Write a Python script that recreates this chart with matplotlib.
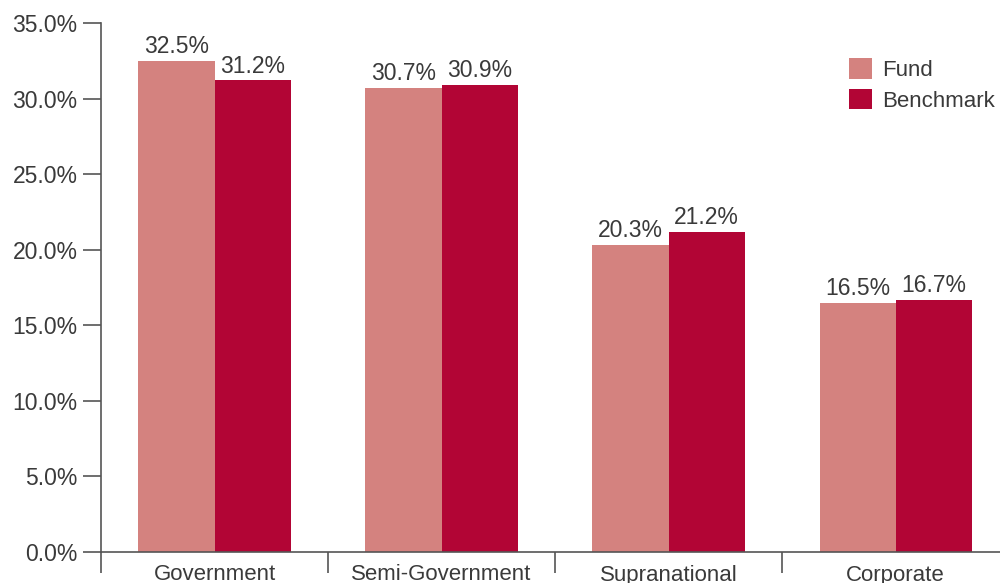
import numpy as np
import matplotlib
matplotlib.use('Agg')
import matplotlib.pyplot as plt
from matplotlib.ticker import FixedLocator, PercentFormatter

plt.rcParams['font.family'] = ['Liberation Sans', 'DejaVu Sans']

# --------- data
categories = ['Government', 'Semi-Government', 'Supranational', 'Corporate']
fund = [32.5, 30.7, 20.3, 16.5]
benchmark = [31.2, 30.9, 21.2, 16.7]
series_names = ['Fund', 'Benchmark']

fund_color = '#D4827F'
bench_color = '#B20535'
text_color = '#3a3a3a'
axis_color = '#555555'

fig = plt.figure(figsize=(10, 5.83), dpi=100)
ax = fig.add_axes([0.101, 31 / 583, 1.0 - 0.101, 529 / 583])

x = np.arange(len(categories))
w = 0.335
b1 = ax.bar(x - w / 2, fund, width=w, color=fund_color, label=series_names[0])
b2 = ax.bar(x + w / 2, benchmark, width=w, color=bench_color, label=series_names[1])

for bars, vals in [(b1, fund), (b2, benchmark)]:
    for rect, v in zip(bars, vals):
        ax.annotate(f'{v:.1f}%', (rect.get_x() + rect.get_width() / 2, v),
                    xytext=(0, 2), textcoords='offset points',
                    ha='center', va='bottom', fontsize=16.5, color=text_color)

ax.set_ylim(0, 35)
ax.set_xlim(-0.5, 3.46)
ax.yaxis.set_major_locator(FixedLocator(np.arange(0, 36, 5)))
ax.yaxis.set_major_formatter(PercentFormatter(decimals=1))

ax.set_xticks(x)
ax.set_xticklabels(categories)
ax.xaxis.set_minor_locator(FixedLocator(np.arange(-0.5, 4, 1)))
ax.tick_params(axis='x', which='major', length=0, pad=9, labelsize=16, labelcolor=text_color)
ax.tick_params(axis='x', which='minor', length=15, width=1.2, color=axis_color, direction='out')
ax.tick_params(axis='y', length=13, width=1.2, color=axis_color, labelsize=16.5,
               labelcolor=text_color, pad=4)

for s in ['top', 'right']:
    ax.spines[s].set_visible(False)
for s in ['left', 'bottom']:
    ax.spines[s].set_color(axis_color)
    ax.spines[s].set_linewidth(1.2)

leg = fig.legend(loc='upper left', bbox_to_anchor=(849 / 1000, 1 - 58 / 583),
                 frameon=False, fontsize=16, handlelength=1.05, handleheight=1.05,
                 handletextpad=0.45, borderpad=0, borderaxespad=0, labelspacing=0.35,
                 labelcolor=text_color)

fig.savefig('out.png', dpi=100)
